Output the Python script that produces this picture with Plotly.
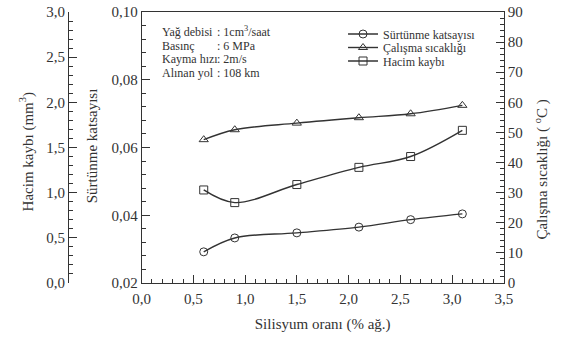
import plotly.graph_objects as go

# ---- data ----
silisyum = [0.6, 0.9, 1.5, 2.1, 2.6, 3.1]
surtunme = [0.0292, 0.0333, 0.0348, 0.0365, 0.0387, 0.0404]
sicaklik = [47.6, 50.9, 53.1, 54.9, 56.2, 59.0]
hacim = [1.03, 0.89, 1.09, 1.28, 1.40, 1.69]

series_names = ["Sürtünme katsayısı", "Çalışma sıcaklığı", "Hacim kaybı"]
info_labels = ["Yağ debisi", "Basınç", "Kayma hızı", "Alınan yol"]
info_values = [": 1cm<sup>3</sup>/saat", ": 6 MPa", ": 2m/s", ": 108 km"]

x_title = "Silisyum oranı (% ağ.)"
y_title = "Sürtünme katsayısı"
y2_title = "Çalışma sıcaklığı ( <sup>o</sup>C )"
y3_title = "Hacim kaybı (mm<sup>3</sup>)"

# ---- layout geometry (pixels) ----
W, H = 566, 340
PL, PR, PT, PB = 137, 511, 12, 283
OUTER_X = 61

FONT = "Liberation Serif"
C = "#333333"


def px_x(x):
    return x / W


def px_y(y):
    return (PB - y) / (PB - PT)


fig = go.Figure()

line_style = dict(color=C, width=1.4, shape="spline", smoothing=1.0)
marker_base = dict(size=8, color=C, line=dict(color=C, width=1))

fig.add_trace(go.Scatter(
    x=silisyum, y=surtunme, name=series_names[0], mode="lines+markers",
    line=line_style, marker=dict(symbol="circle-open", **marker_base),
    xaxis="x", yaxis="y", legend="legend"))
fig.add_trace(go.Scatter(
    x=silisyum, y=sicaklik, name=series_names[1], mode="lines+markers",
    line=line_style, marker=dict(symbol="triangle-up-open", **marker_base),
    xaxis="x", yaxis="y2", legend="legend2"))
fig.add_trace(go.Scatter(
    x=silisyum, y=hacim, name=series_names[2], mode="lines+markers",
    line=line_style, marker=dict(symbol="square-open", **marker_base),
    xaxis="x", yaxis="y3", legend="legend3"))

tickfont = dict(family=FONT, size=15, color=C)
common = dict(showgrid=False, zeroline=False, showline=True, linecolor=C,
              linewidth=1, ticks="inside", ticklen=8, tickwidth=1,
              tickcolor=C, tickfont=tickfont)

legend_rows = [34, 47.5, 61]
leg_common = dict(font=dict(family=FONT, size=12, color=C),
                  bgcolor="rgba(0,0,0,0)", borderwidth=0,
                  xanchor="left", yanchor="middle", x=px_x(345),
                  itemwidth=30)

annotations = []
rows = [31.7, 46, 59.3, 72.7]
info_font = dict(family=FONT, size=12, color=C)
for i, (lab, val) in enumerate(zip(info_labels, info_values)):
    annotations.append(dict(text=lab, x=px_x(156), y=px_y(rows[i]),
                            xref="paper", yref="paper", xanchor="left",
                            yanchor="middle", showarrow=False,
                            font=info_font))
    annotations.append(dict(text=val, x=px_x(213), y=px_y(rows[i]),
                            xref="paper", yref="paper", xanchor="left",
                            yanchor="middle", showarrow=False,
                            font=info_font))

annotations.append(dict(text=y3_title, x=px_x(18), y=px_y(152),
                        xref="paper", yref="paper", textangle=-90,
                        showarrow=False, xanchor="center", yanchor="middle",
                        font=dict(family=FONT, size=15, color=C)))
annotations.append(dict(text=y_title, x=px_x(86), y=px_y(146),
                        xref="paper", yref="paper", textangle=-90,
                        showarrow=False, xanchor="center", yanchor="middle",
                        font=dict(family=FONT, size=15, color=C)))
annotations.append(dict(text=y2_title, x=px_x(549), y=px_y(170),
                        xref="paper", yref="paper", textangle=-90,
                        showarrow=False, xanchor="center", yanchor="middle",
                        font=dict(family=FONT, size=15, color=C)))

fig.update_layout(
    width=W, height=H,
    margin=dict(l=0, r=0, t=12, b=57, pad=0),
    paper_bgcolor="white", plot_bgcolor="white",
    separators=",.",
    font=dict(family=FONT, color=C),
    xaxis=dict(domain=[px_x(PL), px_x(PR)], range=[0, 3.5], tick0=0,
               dtick=0.5, tickformat=".1f", mirror=True,
               ticklabelstandoff=2,
               minor=dict(dtick=0.1, ticks="inside", ticklen=4,
                          tickcolor=C, showgrid=False),
               title=dict(text=x_title, standoff=12,
                          font=dict(family=FONT, size=15, color=C)),
               **common),
    yaxis=dict(range=[0.02, 0.10], tick0=0.02, dtick=0.02,
               tickformat=".2f", anchor="x",
               minor=dict(dtick=0.004, ticks="inside", ticklen=4,
                          tickcolor=C, showgrid=False),
               **common),
    yaxis2=dict(range=[0, 90], tick0=0, dtick=10, overlaying="y",
                side="right", anchor="x",
                minor=dict(dtick=2, ticks="inside", ticklen=4,
                           tickcolor=C, showgrid=False),
                **common),
    yaxis3=dict(range=[0, 3.0], tick0=0, dtick=0.5, tickformat=".1f",
                overlaying="y", side="left", anchor="free",
                position=px_x(OUTER_X),
                minor=dict(dtick=0.1, ticks="inside", ticklen=4,
                           tickcolor=C, showgrid=False),
                **common),
    legend=dict(y=px_y(legend_rows[0]), **leg_common),
    legend2=dict(y=px_y(legend_rows[1]), **leg_common),
    legend3=dict(y=px_y(legend_rows[2]), **leg_common),
    annotations=annotations,
    showlegend=True,
)

fig.write_html("out.html")
